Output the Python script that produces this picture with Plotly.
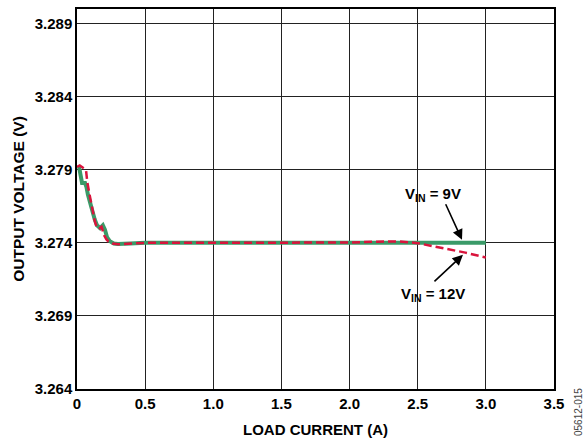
import plotly.graph_objects as go

# Load current (A) and output voltage (V) for each input voltage
i_9v = [0.015, 0.037, 0.059, 0.07, 0.08, 0.095, 0.11, 0.13, 0.147, 0.17, 0.19, 0.205, 0.22,
        0.24, 0.27, 0.30, 0.39, 0.5, 1.0, 1.5, 2.0, 2.5, 3.0]
v_9v = [3.2792, 3.2781, 3.2781, 3.2778, 3.2773, 3.2767, 3.2761, 3.2756, 3.2752, 3.2750,
        3.2752, 3.2749, 3.2744, 3.27412, 3.27395, 3.27392, 3.27395, 3.2740, 3.2740, 3.2740,
        3.2740, 3.2740, 3.2740]

i_12v = [0.0, 0.02, 0.066, 0.075, 0.09, 0.11, 0.13, 0.147, 0.165, 0.18, 0.2, 0.215, 0.23,
         0.26, 0.3, 0.5, 1.0, 1.5, 2.0, 2.2, 2.37, 2.5, 2.65, 2.85, 3.0]
v_12v = [3.2792, 3.2793, 3.2790, 3.2782, 3.2774, 3.2763, 3.2755, 3.2750, 3.2750, 3.2751,
         3.2745, 3.27425, 3.2741, 3.27395, 3.2739, 3.2740, 3.2740, 3.2740, 3.27402, 3.27408,
         3.2741, 3.27398, 3.27372, 3.27333, 3.2730]

x_ticks = [0, 0.5, 1.0, 1.5, 2.0, 2.5, 3.0, 3.5]
x_tick_text = ["0", "0.5", "1.0", "1.5", "2.0", "2.5", "3.0", "3.5"]
y_ticks = [3.264, 3.269, 3.274, 3.279, 3.284, 3.289]
y_tick_text = ["3.264", "3.269", "3.274", "3.279", "3.284", "3.289"]

font = "Liberation Sans, Arial, sans-serif"

fig = go.Figure()
fig.add_trace(go.Scatter(x=i_9v, y=v_9v, mode="lines", line=dict(color="#3a9a68", width=4),
                         showlegend=False))
fig.add_trace(go.Scatter(x=i_12v, y=v_12v, mode="lines",
                         line=dict(color="#d9143c", width=2.5, dash="8px,4px"),
                         showlegend=False))

axis_common = dict(showline=True, linecolor="black", linewidth=1.5, mirror=True,
                   showgrid=True, gridcolor="#222222", gridwidth=1.3, zeroline=False,
                   automargin=False,
                   ticks="", tickfont=dict(family=font, size=15, color="black"))

fig.update_layout(
    width=583, height=439,
    margin=dict(l=77, r=29, t=9, b=50),
    paper_bgcolor="white", plot_bgcolor="white",
    xaxis=dict(range=[0, 3.5], tickvals=x_ticks,
               ticktext=[f"<b>{t}</b>" for t in x_tick_text],
               title=dict(text="<b>LOAD CURRENT (A)</b>", standoff=14,
                          font=dict(family=font, size=15, color="black")),
               **axis_common),
    yaxis=dict(range=[3.264, 3.2900], tickvals=y_ticks,
               ticktext=[f"<b>{t}</b>" for t in y_tick_text],
               title=dict(text="<b>OUTPUT VOLTAGE (V)</b>", standoff=6,
                          font=dict(family=font, size=15.5, color="black")),
               **axis_common),
)

# Arrows pointing at each curve
fig.add_annotation(x=2.825, y=3.27421, xref="x", yref="y", text="", showarrow=True,
                   ax=-17, ay=-37, arrowhead=2, arrowsize=1.3, arrowwidth=1.6,
                   arrowcolor="black")
fig.add_annotation(x=2.832, y=3.27318, xref="x", yref="y", text="", showarrow=True,
                   ax=-30, ay=28, arrowhead=2, arrowsize=1.3, arrowwidth=1.6,
                   arrowcolor="black")

fig.add_annotation(x=(433 - 77) / 136.29, y=3.279 - (195 - 170) / 73 * 0.005,
                   xref="x", yref="y", showarrow=False,
                   text="<b>V<sub>IN</sub> = 9V</b>",
                   font=dict(family=font, size=15, color="black"))
fig.add_annotation(x=(433 - 77) / 136.29, y=3.279 - (295 - 170) / 73 * 0.005,
                   xref="x", yref="y", showarrow=False,
                   text="<b>V<sub>IN</sub> = 12V</b>",
                   font=dict(family=font, size=15, color="black"))

# Figure code along the right edge, outside the plotting area
fig.add_annotation(x=(578 - 77) / 477, y=(389 - 412) / 380, xref="paper", yref="paper",
                   xanchor="center", yanchor="middle", showarrow=False,
                   text="05612-015", textangle=-90,
                   font=dict(family=font, size=10, color="#444444"))

fig.write_html("out.html")
